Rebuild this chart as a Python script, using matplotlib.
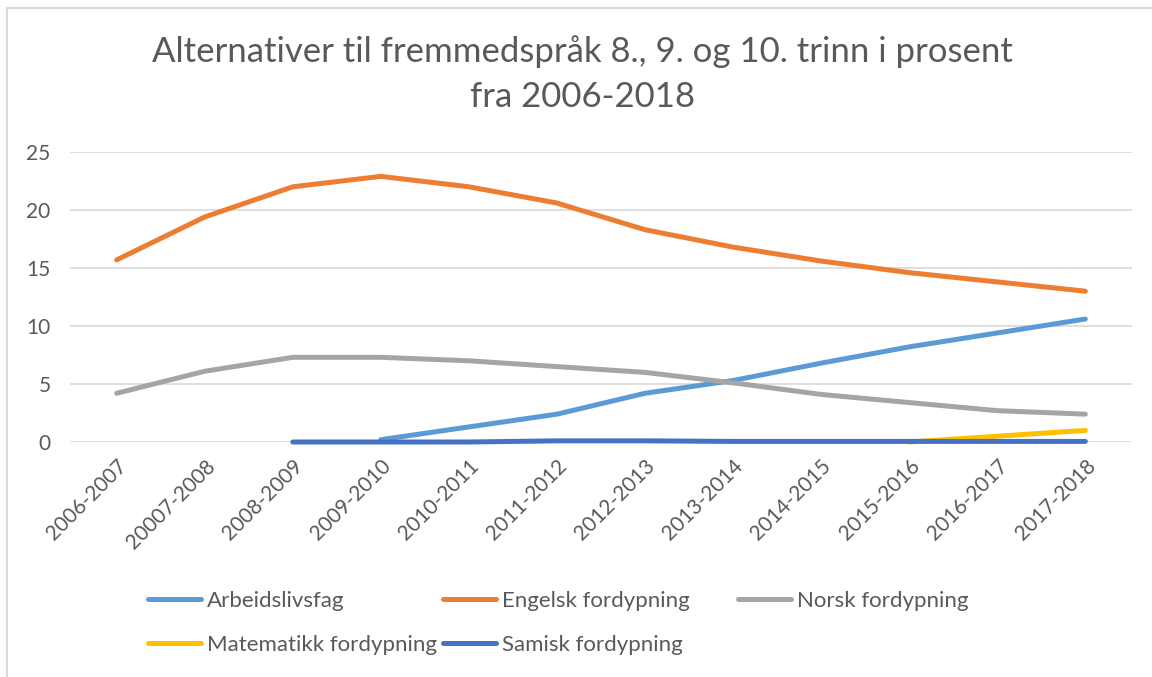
#!/usr/bin/env python
# -*- coding: utf-8 -*-

import numpy as np
import matplotlib
matplotlib.use('Agg')
import matplotlib.pyplot as plt
from matplotlib.lines import Line2D

plt.rcParams['font.family'] = ['Lato', 'DejaVu Sans']

TEXT = '#595959'
GRID = '#D9D9D9'

years = ['2006-2007', '20007-2008', '2008-2009', '2009-2010', '2010-2011',
         '2011-2012', '2012-2013', '2013-2014', '2014-2015', '2015-2016',
         '2016-2017', '2017-2018']

# None = no data for that year
arbeidslivsfag = [None, None, None, 0.2, 1.3, 2.4, 4.2, 5.3, 6.8, 8.2, 9.4, 10.6]
engelsk = [15.7, 19.4, 22.0, 22.9, 22.0, 20.6, 18.3, 16.8, 15.6, 14.6, 13.8, 13.0]
norsk = [4.2, 6.1, 7.3, 7.3, 7.0, 6.5, 6.0, 5.1, 4.1, 3.4, 2.7, 2.4]
matematikk = [None, None, None, None, None, None, None, None, None, 0.0, 0.5, 1.0]
samisk = [None, None, 0.0, 0.0, 0.0, 0.1, 0.1, 0.05, 0.05, 0.05, 0.05, 0.05]

series = [
    ('Arbeidslivsfag', arbeidslivsfag, '#5B9BD5'),
    ('Engelsk fordypning', engelsk, '#ED7D31'),
    ('Norsk fordypning', norsk, '#A5A5A5'),
    ('Matematikk fordypning', matematikk, '#FFC000'),
    ('Samisk fordypning', samisk, '#4472C4'),
]


def _to_array(values):
    return np.array([np.nan if v is None else v for v in values], dtype=float)


fig = plt.figure(figsize=(11.52, 6.77), dpi=100)
ax = fig.add_axes([70 / 1152., 1 - 442 / 677., 1062 / 1152., 290 / 677.])

x = np.arange(len(years))
for name, values, color in series:
    ax.plot(x, _to_array(values), color=color, lw=3.6, clip_on=False,
            solid_capstyle='round', solid_joinstyle='round', label=name)

ax.set_xlim(-0.53, len(years) - 0.47)
ax.set_ylim(0, 25)
ax.set_yticks(range(0, 26, 5))
ax.set_xticks(x)
ax.set_xticklabels(years, rotation=45, ha='right', rotation_mode='anchor')
ax.tick_params(axis='x', length=0, pad=10, labelsize=15, labelcolor=TEXT)
ax.tick_params(axis='y', length=0, pad=14, labelsize=15, labelcolor=TEXT)
ax.grid(axis='y', color=GRID, lw=1.2)
ax.set_axisbelow(True)
for s in ax.spines.values():
    s.set_visible(False)

fig.text(0.506, 1 - 52 / 677., 'Alternativer til fremmedspråk 8., 9. og 10. trinn i prosent',
         ha='center', va='center', fontsize=25, color=TEXT)
fig.text(0.506, 1 - 97 / 677., 'fra 2006-2018',
         ha='center', va='center', fontsize=25, color=TEXT)

# legend laid out like the original: 3 per row, fixed column width
for i, (name, values, color) in enumerate(series):
    col, row = i % 3, i // 3
    h = Line2D([], [], color=color, lw=3.6, solid_capstyle='round')
    leg = fig.legend([h], [name], loc='center left', frameon=False,
                     bbox_to_anchor=((148 + col * 295) / 1152., 1 - (601 + row * 44) / 677.),
                     borderpad=0, borderaxespad=0, handlelength=2.4,
                     handletextpad=0.25, fontsize=16)
    for t in leg.get_texts():
        t.set_color(TEXT)

# outer chart border
fig.add_artist(plt.Rectangle((7 / 1152., -0.1), 1.2, 0.1 + 1 - 8 / 677.,
                             transform=fig.transFigure, fill=False,
                             edgecolor=GRID, lw=1.5))

fig.savefig('out.png', dpi=100)
